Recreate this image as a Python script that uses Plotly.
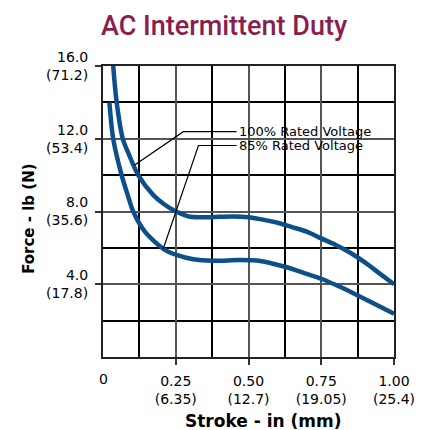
import plotly.graph_objects as go

# ---- data ----
stroke_100 = [0.035, 0.047, 0.068, 0.09, 0.121, 0.173, 0.21, 0.251, 0.30, 0.35, 0.40, 0.45,
              0.50, 0.54, 0.60, 0.65, 0.70, 0.75, 0.80, 0.85, 0.90, 0.95, 1.00]
force_100 = [16.0, 14.0, 12.0, 11.1, 10.0, 8.9, 8.4, 8.0, 7.71, 7.69, 7.71, 7.73,
             7.68, 7.58, 7.38, 7.14, 6.89, 6.52, 6.16, 5.73, 5.2, 4.6, 4.0]

stroke_85 = [0.022, 0.035, 0.064, 0.085, 0.104, 0.144, 0.207, 0.253, 0.31, 0.38,
             0.47, 0.54, 0.625, 0.70, 0.752, 0.814, 0.872, 0.929, 1.0]
force_85 = [14.0, 12.0, 10.0, 8.9, 8.0, 6.89, 5.95, 5.61, 5.37, 5.29,
            5.33, 5.28, 4.96, 4.57, 4.29, 3.86, 3.41, 2.95, 2.38]

x_tickvals = [0.25, 0.5, 0.75, 1.0]
x_ticktext = ["0.25<br>(6.35)", "0.50<br>(12.7)", "0.75<br>(19.05)", "1.00<br>(25.4)"]
y_tickvals = [4, 8, 12, 16]
y_ticktext = ["4.0<br>(17.8)", "8.0<br>(35.6)", "12.0<br>(53.4)", "16.0<br>(71.2)"]

series_names = ["100% Rated Voltage", "85% Rated Voltage"]

BLUE = "#0D4F8B"
TICKFONT = dict(family="DejaVu Sans", size=14, color="black")

fig = go.Figure()
fig.add_trace(go.Scatter(x=stroke_100, y=force_100, mode="lines", name=series_names[0],
                         line=dict(color=BLUE, width=4.5, shape="spline", smoothing=0.8)))
fig.add_trace(go.Scatter(x=stroke_85, y=force_85, mode="lines", name=series_names[1],
                         line=dict(color=BLUE, width=4.5, shape="spline", smoothing=0.8)))

# leader lines
leader = dict(color="black", width=1.2)
fig.add_shape(type="path", path="M 0.109 10.56 L 0.276 12.39 L 0.459 12.39",
              xref="x", yref="y", line=leader)
fig.add_shape(type="path", path="M 0.207 5.95 L 0.328 11.63 L 0.459 11.63",
              xref="x", yref="y", line=leader)
fig.add_annotation(x=0.462, y=12.39, xref="x", yref="y", text=series_names[0],
                   showarrow=False, xanchor="left", yanchor="middle",
                   font=dict(family="DejaVu Sans", size=13, color="black"))
fig.add_annotation(x=0.462, y=11.63, xref="x", yref="y", text=series_names[1],
                   showarrow=False, xanchor="left", yanchor="middle",
                   font=dict(family="DejaVu Sans", size=13, color="black"))

# title
fig.add_annotation(x=0.416, y=1.1375, xref="paper", yref="paper", text="AC Intermittent Duty",
                   showarrow=False, xanchor="center", yanchor="middle",
                   font=dict(family="Roboto", size=27, color="#8B1D4F", weight=500))
# axis titles
fig.add_annotation(x=0.5526, y=-0.22, xref="paper", yref="paper", text="<b>Stroke - in (mm)</b>",
                   showarrow=False, xanchor="center", yanchor="middle",
                   font=dict(family="DejaVu Sans", size=17, color="black"))
fig.add_annotation(x=-0.255, y=0.474, xref="paper", yref="paper", text="<b>Force - lb (N)</b>",
                   showarrow=False, xanchor="center", yanchor="middle", textangle=-90,
                   font=dict(family="DejaVu Sans", size=15, color="black"))
# "0" label at origin of stroke axis
fig.add_annotation(x=0, y=-0.0756, xref="x", yref="paper", text="0",
                   showarrow=False, xanchor="center", yanchor="middle", font=TICKFONT)

fig.update_xaxes(range=[0, 1], tickvals=x_tickvals, ticktext=x_ticktext, tickfont=TICKFONT,
                 ticks="outside", ticklen=6, tickwidth=1.5, tickcolor="#333",
                 showgrid=True, gridcolor="#555", gridwidth=2,
                 minor=dict(dtick=0.125, tick0=0, showgrid=True, gridcolor="black",
                            gridwidth=1.5, ticks=""),
                 showline=True, linecolor="#222", linewidth=2, mirror=True,
                 zeroline=False, ticklabelstandoff=4, automargin=False)
fig.update_yaxes(range=[0, 16], tickvals=y_tickvals, ticktext=y_ticktext, tickfont=TICKFONT,
                 ticks="outside", ticklen=6, tickwidth=1.5, tickcolor="#333",
                 showgrid=True, gridcolor="#555", gridwidth=2,
                 minor=dict(dtick=2, tick0=0, showgrid=True, gridcolor="black",
                            gridwidth=1.5, ticks=""),
                 showline=True, linecolor="#222", linewidth=2, mirror=True,
                 zeroline=False, ticklabelstandoff=4, automargin=False)

fig.update_layout(width=422, height=430, margin=dict(l=103, r=28, t=66, b=73, autoexpand=False),
                  paper_bgcolor="white", plot_bgcolor="white", showlegend=False)

# remove the default page margin so the 422x430 figure fills the window exactly
fig.write_html("out.html", config={"displayModeBar": False},
               post_script="document.body.style.margin='0';document.body.style.overflow='hidden';")
